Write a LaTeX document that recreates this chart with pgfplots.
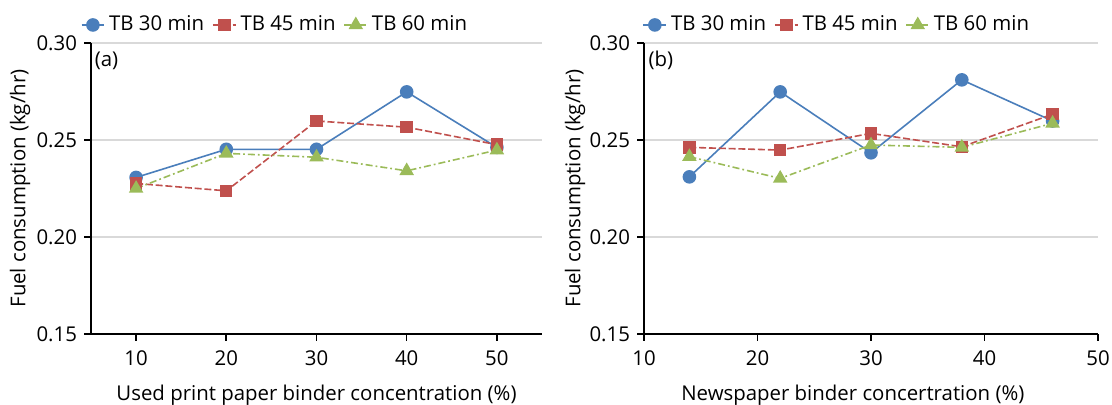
\documentclass[border=0pt]{standalone}
\usepackage{fontspec}
\setmainfont{Open Sans}
\usepackage{pgfplots}
\pgfplotsset{compat=1.18}
\definecolor{cblue}{HTML}{4A7EBB}
\definecolor{cred}{HTML}{C0504D}
\definecolor{cgreen}{HTML}{9BBB59}
\definecolor{cgrid}{HTML}{D9D9D9}
\pgfplotsset{
  fcstyle/.style={
    scale only axis,
    anchor=south west,
    height=145.5pt,
    ymin=0.15, ymax=0.30,
    ytick={0.15,0.20,0.25,0.30},
    axis lines*=left,
    axis line style={black, line width=0.9pt},
    tick align=outside,
    major tick length=3.5pt,
    tick style={black, line width=0.8pt},
    ymajorgrids,
    grid style={cgrid, line width=0.7pt},
    font=\fontsize{10.2}{12}\selectfont,
    /pgf/number format/assume math mode=true,
    yticklabel style={/pgf/number format/fixed, /pgf/number format/fixed zerofill, /pgf/number format/precision=2},
    xticklabel style={/pgf/number format/fixed, yshift=-1.5pt},
    ylabel={Fuel consumption (kg/hr)},
    legend columns=3,
    legend style={draw=none, fill=none, font=\fontsize{10.2}{12}\selectfont, anchor=center,
      /tikz/every even column/.append style={column sep=2pt}},
    legend image code/.code={\draw[mark repeat=2,mark phase=2] plot coordinates {(0cm,0cm)(0.2cm,0cm)(0.4cm,0cm)};},
    clip=false,
  },
  s30/.style={cblue, line width=0.8pt, solid, mark=*, mark size=3pt, mark options={solid, fill=cblue, draw=cblue}},
  s45/.style={cred, line width=0.8pt, dash pattern=on 3.5pt off 1.4pt, mark=square*, mark size=2.7pt, mark options={solid, fill=cred, draw=cred}},
  s60/.style={cgreen, line width=0.8pt, dash pattern=on 3.5pt off 1.5pt on 0.9pt off 1.5pt, mark=triangle*, mark size=3.4pt, mark options={solid, fill=cgreen, draw=cgreen}},
}
\begin{document}
\begin{tikzpicture}
\useasboundingbox (0,0) rectangle (556pt,202.5pt);
\begin{axis}[fcstyle,
  at={(45.5pt,35.5pt)},
  width=225.5pt,
  xmin=5, xmax=55,
  xtick={10,20,30,40,50},
  xlabel={Used print paper binder concentration (\%)},
  xlabel style={at={(axis description cs:0.5,-0.212)}, anchor=center},
  ylabel style={at={(axis description cs:-0.157,0.5)}, anchor=center},
  legend style={at={(0.41,1.062)}},
]
\addplot[s30] coordinates {(10,0.2307) (20,0.2452) (30,0.2452) (40,0.2748) (50,0.2462)};
\addlegendentry{TB 30 min}
\addplot[s45] coordinates {(10,0.2276) (20,0.2238) (30,0.2598) (40,0.2566) (50,0.2476)};
\addlegendentry{TB 45 min}
\addplot[s60] coordinates {(10,0.2250) (20,0.2431) (30,0.2411) (40,0.2341) (50,0.2448)};
\addlegendentry{TB 60 min}
\node[anchor=west, inner sep=1pt] at (rel axis cs:0.003,0.94) {(a)};
\end{axis}
\begin{axis}[fcstyle,
  at={(322pt,35.5pt)},
  width=227pt,
  xmin=10, xmax=50,
  xtick={10,20,30,40,50},
  xlabel={Newspaper binder concertration (\%)},
  xlabel style={at={(axis description cs:0.46,-0.212)}, anchor=center},
  ylabel style={at={(axis description cs:-0.152,0.5)}, anchor=center},
  legend style={at={(0.427,1.062)}},
]
\addplot[s30] coordinates {(14,0.2310) (22,0.2748) (30,0.2434) (38,0.2810) (46,0.2598)};
\addlegendentry{TB 30 min}
\addplot[s45] coordinates {(14,0.2462) (22,0.2448) (30,0.2534) (38,0.2465) (46,0.2633)};
\addlegendentry{TB 45 min}
\addplot[s60] coordinates {(14,0.2414) (22,0.2302) (30,0.2474) (38,0.2462) (46,0.2586)};
\addlegendentry{TB 60 min}
\node[anchor=west, inner sep=1pt] at (rel axis cs:0.005,0.94) {(b)};
\end{axis}
\end{tikzpicture}
\end{document}
